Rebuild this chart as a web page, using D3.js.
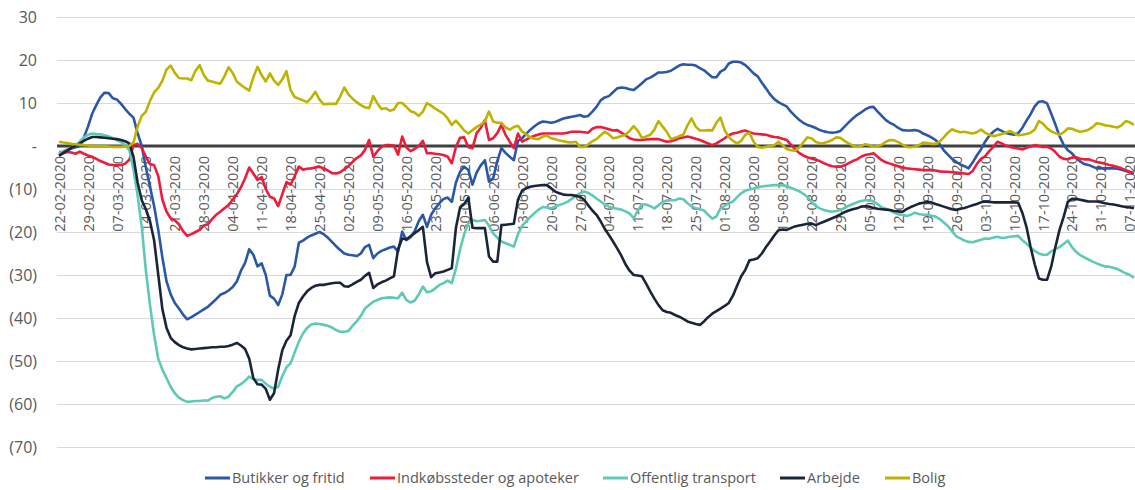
<!DOCTYPE html>
<html>
<head>
<meta charset="utf-8">
<script src="https://cdn.jsdelivr.net/npm/d3@7"></script>
<style>
  html, body { margin: 0; padding: 0; background: #ffffff; }
  svg { display: block; font-family: "Open Sans", "Noto Sans", sans-serif; }
</style>
</head>
<body>
<svg id="chart" width="1135" height="490"></svg>
<script>
// ----------- DATA ------------
// first day of the series, one value per day
const START_DATE = new Date(2020, 1, 22);

const butikker = [
  -2.1,-1.5,-1,-0.6,-0.3,0,2,4.5,7.5,9.5,
  11.3,12.4,12.3,11.1,10.8,9.8,8.6,7.5,6.6,3,
  0,-5,-9.5,-14,-19.5,-26,-31.5,-34.5,-36.5,-37.8,
  -39.2,-40.3,-39.8,-39.2,-38.6,-38,-37.4,-36.5,-35.6,-34.6,
  -34.2,-33.6,-32.8,-31.5,-29,-27.2,-24,-25.3,-28,-27.3,
  -30,-34.8,-35.5,-37,-34.5,-30,-30,-28,-22.5,-22,
  -21.3,-20.8,-20.4,-20,-20.5,-21.3,-22.3,-23.3,-24.2,-25,
  -25.3,-25.4,-25.6,-25,-23.5,-23,-26.1,-25,-24.4,-24,
  -23.6,-23.4,-24.6,-19.9,-21.9,-21.2,-19.8,-17.5,-16,-18.8,
  -16,-14.5,-13.3,-12.3,-12,-13,-8.5,-6,-4.8,-5.6,
  -9,-6.2,-4.5,-3.3,-8.3,-7.5,-3.5,-0.5,-1.6,-2.5,
  -3.3,1.2,1.8,2.8,3.8,4.6,5.3,5.7,5.6,5.4,
  5.6,6,6.4,6.6,6.8,7,7.2,6.8,7,8,
  9.1,10.6,11.3,11.6,12.5,13.4,13.6,13.5,13.2,13,
  13.8,14.6,15.5,15.9,16.5,17.1,17.1,17.2,17.5,18.1,
  18.7,19,18.9,18.9,18.7,18.1,17.6,16.8,16,16,
  17.3,17.8,19.2,19.6,19.6,19.4,18.8,17.9,16.9,16.2,
  14.7,13.4,12,10.9,10.2,9.7,9.2,8,7,6.1,
  5.4,4.9,4.6,4.2,3.7,3.4,3.2,3.1,3.2,3.5,
  4.5,5.5,6.4,7.2,7.8,8.5,9,9.1,8,7,
  6,5.4,4.9,4.2,3.7,3.6,3.6,3.7,3.5,2.9,
  2.5,2,1.4,0.5,-1,-2,-3,-3.7,-4.3,-4.7,
  -5.2,-3.8,-2.2,-0.8,1,2.4,3.3,4,3.5,3,
  2.8,2.6,3,4.2,5.9,7.4,9.2,10.3,10.4,9.9,
  7.5,5,2.3,0.3,-1,-1.7,-2.8,-3.6,-4.2,-4.4,
  -4.8,-5.2,-5.2,-5.2,-5.2,-5.2,-5.3,-5.5,-5.8,-6.1,
  -6.4
];

const indkob = [
  -1.3,-1.7,-1.4,-1.5,-1.8,-1.3,-1.8,-2.2,-2.5,-3,
  -3.5,-3.9,-4.3,-4.4,-4.5,-4.4,-4.1,-3.2,0.2,0.5,
  -0.5,-2.5,-4.2,-4.5,-7,-12.5,-15.3,-16.8,-17.3,-18.2,
  -19.8,-20.9,-20.5,-20,-19.5,-18.5,-18.2,-17,-16,-15.3,
  -14.5,-13.7,-12.5,-11.2,-9.6,-7.5,-5,-6.4,-7.9,-7.2,
  -10,-11.8,-12.2,-14,-11.2,-8.4,-9,-7,-4.8,-5.5,
  -5.3,-5.2,-5,-4.8,-5.2,-5.7,-6.3,-6.4,-6.1,-5.4,
  -4.7,-3.7,-2.8,-2.2,-0.9,1.4,-2.5,-1.2,-0.2,0.2,
  0.2,0.1,-2,2.2,-0.3,-1.2,-0.7,0,1.2,-1.7,
  -1.7,-1.8,-1.9,-2.1,-2.5,-4,-0.2,1.9,2,-0.3,
  -0.5,3,4.2,6,1.4,1.8,3,4.9,2.6,1,
  -0.5,2.9,1,1.5,2,2.4,2.7,2.9,2.9,2.9,
  2.9,2.9,2.9,3.1,3.3,3.3,3.3,3.2,3.1,4,
  4.4,4.4,4.2,3.9,3.6,3.7,3.1,2.5,1.8,1.5,
  1.4,1.4,1.5,1.6,1.6,1.6,1.3,1,1.1,1.4,
  1.8,2,2.2,2,1.7,1.4,1,0.6,0.2,0.6,
  1.2,1.8,2.5,2.9,3.1,3.4,3.6,3.2,2.9,2.8,
  2.7,2.6,2.3,2.1,2,1.7,1.4,0.3,-0.7,-1.6,
  -2.2,-2.6,-2.9,-3.2,-3.5,-4,-4.4,-4.7,-4.8,-4.8,
  -4.5,-4,-3.5,-3.1,-2.5,-2.1,-1.9,-1.7,-2.5,-3.3,
  -3.8,-4.1,-4.4,-4.7,-5,-5.2,-5.3,-5.4,-5.5,-5.6,
  -5.6,-5.6,-5.7,-5.9,-6,-6,-6.1,-6.2,-6.3,-6.4,
  -6.5,-5.8,-4.2,-3,-2.4,-1.2,-0.2,1,0.6,0.1,
  -0.2,-0.4,-0.6,-0.8,-0.4,-0.1,0.2,0,-0.2,-0.2,
  -0.6,-1.4,-2.5,-3,-3.1,-2.7,-2.6,-3,-3.1,-3.1,
  -3.4,-3.7,-3.9,-4.1,-4.4,-4.6,-4.9,-5.2,-5.6,-6,
  -6.2
];

const transport = [
  -1.7,-1.2,-0.8,-0.3,0.2,1,2,2.6,2.9,2.8,
  2.7,2.5,2.2,1.8,1.4,0.9,0.2,-1,-5.5,-11.5,
  -18.8,-29,-37,-44,-49.5,-52,-54,-56,-57.5,-58.5,
  -59.1,-59.5,-59.4,-59.3,-59.3,-59.2,-59.2,-58.6,-58.3,-58.2,
  -58.7,-58.3,-57.2,-55.9,-55.4,-54.6,-53.6,-54.2,-54.4,-54.4,
  -55.3,-56,-56.4,-56,-53.5,-51.5,-50.5,-48,-45.5,-43.6,
  -42.3,-41.5,-41.3,-41.4,-41.6,-41.8,-42.2,-42.8,-43.2,-43.2,
  -43,-41.8,-40.8,-39.5,-37.8,-37,-36.2,-35.8,-35.4,-35.3,
  -35.2,-35.3,-35.4,-34.1,-35.8,-36.4,-36,-34.5,-32.7,-34,
  -33.8,-33.1,-32.3,-31.9,-31.3,-31.9,-28.5,-24,-20.5,-18,
  -17.2,-17.5,-17.4,-17.2,-18.5,-20.3,-21.3,-22.2,-22.6,-23,
  -23.4,-20.5,-18.6,-17.5,-16.5,-15.6,-14.8,-14.2,-14.3,-14.5,
  -14.1,-13.7,-13.4,-13,-12.3,-11.6,-11,-10.6,-10.9,-11.5,
  -12.2,-12.9,-13.6,-14.1,-14.4,-14.6,-14.8,-15.2,-15.7,-16.8,
  -15,-13.6,-13.6,-14,-14.5,-13.8,-13,-12.7,-12.6,-12.6,
  -12.2,-12.4,-13.3,-14,-14.5,-14.7,-15,-16,-16.9,-16.4,
  -14.5,-13.9,-13.3,-12.9,-11.9,-11,-10.4,-10.1,-9.9,-9.6,
  -9.4,-9.3,-9.2,-9.1,-9.1,-9.2,-9.3,-9.7,-10.1,-10.5,
  -11.1,-11.8,-13,-13.9,-14.5,-14.9,-15.1,-15.3,-15.1,-14.9,
  -14.4,-13.9,-13.5,-13.1,-12.8,-12.6,-12.6,-12.9,-13.5,-14.3,
  -14.6,-15,-15.5,-15.9,-16,-16.3,-16,-15.5,-15.8,-16,
  -16,-16.2,-16.4,-17,-17.8,-18.6,-19.8,-21,-21.5,-22,
  -22.3,-22.4,-22.1,-21.8,-21.5,-21.6,-21.3,-21.1,-21.4,-21.3,
  -21.1,-21,-20.9,-21.9,-22.7,-23.6,-24.4,-25,-25.3,-25.3,
  -24.5,-24,-23.5,-22.8,-22,-23.5,-24.6,-25.4,-25.9,-26.4,
  -26.9,-27.3,-27.7,-28,-28.1,-28.3,-28.6,-29.1,-29.6,-30,
  -30.6
];

const arbejde = [
  -2.3,-1.6,-1,-0.4,0.1,0.6,1.2,1.7,2.1,2.1,
  2,1.9,1.8,1.7,1.6,1.4,1.1,0.6,-2.5,-8.5,
  -12.6,-14.7,-17.5,-22,-30,-38,-42.3,-44.6,-45.6,-46.3,
  -46.8,-47.1,-47.3,-47.2,-47.1,-47,-46.9,-46.8,-46.8,-46.7,
  -46.7,-46.5,-46.2,-45.8,-46.4,-47.2,-49.5,-54,-55.4,-55.5,
  -56.5,-59,-57.5,-52,-47.5,-45.3,-44,-39.5,-36.5,-35,
  -33.8,-33,-32.5,-32.3,-32.3,-32.1,-31.9,-31.8,-31.8,-32.6,
  -32.7,-32.2,-31.6,-31.1,-30.2,-29.5,-33,-32.2,-31.7,-31.3,
  -30.8,-30.3,-24,-21.5,-21.7,-21,-20.3,-19.6,-18.8,-27,
  -30.5,-29.6,-29.4,-29.2,-28.8,-28.4,-19,-14.3,-13.5,-12,
  -19,-19.1,-19.1,-19.1,-25.7,-26.9,-26.9,-18.4,-18.3,-18.2,
  -18.1,-12.5,-10.4,-9.8,-9.5,-9.3,-9.2,-9.1,-9.1,-9.8,
  -10.6,-11,-11.3,-11.4,-11.4,-11.6,-11.8,-12.5,-13.8,-15,
  -16,-17.5,-19.3,-20.7,-22.2,-23.8,-25.5,-27.5,-29,-30,
  -30.1,-30.3,-32,-33.8,-35.5,-37,-38.2,-38.6,-38.8,-39.3,
  -39.7,-40.2,-40.8,-41.1,-41.4,-41.6,-40.8,-39.8,-39,-38.4,
  -37.8,-37.2,-36.5,-34.8,-32.5,-30.3,-28.8,-26.6,-26.4,-26.1,
  -25,-23.5,-22.2,-20.8,-19.6,-19.4,-19.5,-19.1,-18.7,-18.5,
  -18.3,-18.1,-18,-18.4,-18,-17.6,-17.2,-16.8,-16.4,-15.9,
  -15.4,-15,-14.7,-14.5,-14.1,-14,-14.1,-14.4,-14.6,-14.7,
  -14.8,-14.9,-15.1,-15.2,-15.3,-14.7,-14.2,-13.8,-13.4,-13.2,
  -13,-13.1,-13.5,-13.8,-14.1,-14.4,-14.7,-14.9,-14.6,-14.4,
  -14.1,-13.8,-13.5,-13.1,-12.9,-13,-13.1,-13.1,-13.1,-13.1,
  -13.1,-13.1,-13.2,-15.5,-18.8,-23.5,-27.5,-30.8,-31.1,-31.1,
  -28,-23.5,-19.5,-16.5,-13,-12.3,-12.3,-12.5,-12.7,-12.9,
  -12.9,-12.9,-13.1,-13.3,-13.5,-13.6,-13.8,-14,-14.2,-14.3,
  -14.5
];

const bolig = [
  1,0.8,0.7,0.5,0.4,0.3,0.2,0.1,0,0,
  0,0,-0.1,-0.2,-0.2,-0.2,-0.1,0,0.8,4.5,
  7,8,10.5,12.5,13.5,15.2,17.8,18.7,17,15.8,
  15.7,15.7,15.3,17.5,18.8,16.5,15.2,15,14.7,14.5,
  16.2,18.3,17,15,14.2,13.5,12.9,16,18.4,16.5,
  15,16.9,15.2,14.2,15.5,17.4,13,11.4,11,10.6,
  10.2,11.2,12.6,10.8,9.7,9.8,9.8,9.8,11.5,13.6,
  12,11,10.2,9.5,9,8.8,11.6,9.9,8.6,8.8,
  8.2,8.5,10,10,9.1,8.1,7.8,7,8,10,
  9.4,8.7,8.1,7.5,6.4,4.9,5.9,4.8,3.6,2.9,
  3.7,4.4,5,5.7,8,5.7,5.4,5.4,4.3,3.8,
  4.4,4.7,3.4,2.7,2,1.7,1.6,2.2,2.4,1.8,
  1.6,1.3,1.1,0.9,0.8,1,-0.2,-0.2,0.4,1.1,
  1.6,2.5,3.3,2.7,1.8,2,2.3,2.6,3.5,4.6,
  3.5,1.9,2.2,2.6,3.8,5.8,4.5,3.3,1.6,1.9,
  2.3,2.6,4.8,6.4,4.5,3.6,3.6,3.7,3.6,5.4,
  6.6,3.7,2.1,1.2,0.6,1.2,2.6,3,1,-0.2,
  -0.4,-0.2,0,0.2,1,0.2,-0.7,-1,-1.1,-0.4,
  0.8,2,1.8,1,0.6,0.7,1,1.4,2,1.9,
  1.2,0.6,0.1,-0.2,0,0.4,0.2,-0.2,0,0.3,
  1,1.4,1.3,0.9,0.3,-0.2,-0.3,-0.1,0.2,0.8,
  0.7,0.5,0.5,1,2,3.1,3.9,3.5,3.2,3.3,
  3.1,2.9,3.2,3.8,3.1,2.6,2.3,2.5,2.8,3.1,
  3.5,3,2.5,2.6,2.8,3.1,3.8,5.8,5.2,4.1,
  3.4,3,2.6,3.2,4.1,4,3.6,3.3,3.5,3.8,
  4.4,5.3,5.1,4.8,4.7,4.5,4.3,4.8,5.8,5.5,
  4.9
];

const seriesNames = ["Butikker og fritid", "Indkøbssteder og apoteker", "Offentlig transport", "Arbejde", "Bolig"];
const seriesValues = [butikker, indkob, transport, arbejde, bolig];
const seriesColors = ["#2a57a7", "#ee1b3b", "#5ec9b4", "#1b2538", "#bfb300"];

// y ticks and their labels (negatives in parentheses, zero as a dash)
const yTicks = [30, 20, 10, 0, -10, -20, -30, -40, -50, -60, -70];
const yTickLabels = ["30", "20", "10", "-", "(10)", "(20)", "(30)", "(40)", "(50)", "(60)", "(70)"];

// ----------- LAYOUT ------------
const svg = d3.select("#chart");
const plotLeft = 57, plotRight = 1136, plotTop = 17, plotBottom = 447;
const nDays = butikker.length;
const dates = d3.range(nDays).map(i => d3.timeDay.offset(START_DATE, i));

const x = d3.scaleLinear()
  .domain([-0.5, nDays - 0.5])
  .range([plotLeft, plotRight]);

const y = d3.scaleLinear()
  .domain([-70, 30])
  .range([plotBottom, plotTop]);

// gridlines
svg.append("g")
  .attr("class", "grid")
  .selectAll("line")
  .data(yTicks.filter(d => d !== 0))
  .join("line")
  .attr("x1", plotLeft)
  .attr("x2", plotRight)
  .attr("y1", d => Math.round(y(d)) + 0.5)
  .attr("y2", d => Math.round(y(d)) + 0.5)
  .attr("stroke", "#d9d9d9")
  .attr("stroke-width", 1);

// y axis labels
const yAxis = d3.axisLeft(y)
  .tickValues(yTicks)
  .tickFormat((d, i) => yTickLabels[i])
  .tickSize(0)
  .tickPadding(0);

svg.append("g")
  .attr("transform", "translate(37,0)")
  .call(yAxis)
  .call(g => g.select(".domain").remove())
  .call(g => g.selectAll("text")
    .attr("fill", "#595959")
    .attr("font-size", "16px")
    .attr("font-family", "'Open Sans', sans-serif"));

// x axis: date label every 7th day, rotated, hanging under the zero line
const weekTicks = d3.range(0, nDays, 7);
const fmt = d3.timeFormat("%d-%m-%Y");
const xAxis = d3.axisBottom(x)
  .tickValues(weekTicks)
  .tickFormat(i => fmt(dates[i]))
  .tickSize(0)
  .tickPadding(0);

svg.append("g")
  .attr("transform", `translate(0,${y(0)})`)
  .call(xAxis)
  .call(g => g.select(".domain").remove())
  .call(g => g.selectAll("text")
    .attr("fill", "#595959")
    .attr("font-size", "14.5px")
    .attr("font-family", "'Open Sans', sans-serif")
    .attr("text-anchor", "end")
    .attr("dy", "0.35em")
    .attr("transform", "translate(0,10) rotate(-90)")
    .attr("y", 0)
    .attr("x", 0));

// zero line
svg.append("line")
  .attr("x1", plotLeft)
  .attr("x2", plotRight)
  .attr("y1", y(0))
  .attr("y2", y(0))
  .attr("stroke", "#404040")
  .attr("stroke-width", 3);

// series lines
const line = d3.line()
  .x((d, i) => x(i))
  .y(d => y(d));

svg.append("g")
  .selectAll("path")
  .data(seriesValues)
  .join("path")
  .attr("d", d => line(d))
  .attr("fill", "none")
  .attr("stroke", (d, i) => seriesColors[i])
  .attr("stroke-width", 2.6)
  .attr("stroke-linejoin", "round");

// ----------- LEGEND ------------
const legendX = [205, 370, 603, 780, 885];
const legendY = 478;
const legend = svg.append("g")
  .selectAll("g")
  .data(seriesNames)
  .join("g")
  .attr("transform", (d, i) => `translate(${legendX[i]},${legendY})`);

legend.append("line")
  .attr("x1", 0)
  .attr("x2", 25)
  .attr("stroke", (d, i) => seriesColors[i])
  .attr("stroke-width", 3);

legend.append("text")
  .attr("x", 27)
  .attr("dy", "0.35em")
  .attr("fill", "#595959")
  .attr("font-size", "14.5px")
  .text(d => d);
</script>
</body>
</html>
